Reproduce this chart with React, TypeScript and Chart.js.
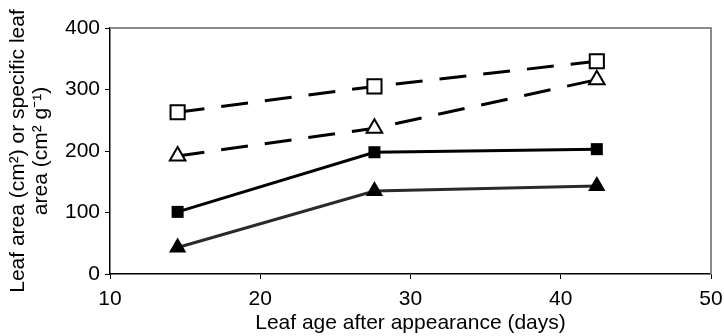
import React, { useEffect, useRef } from "react";
import { Chart, registerables } from "chart.js";

Chart.register(...registerables);

const leafAge = [14.5, 27.6, 42.4];
const openSquareValues = [263, 305, 346];
const openTriangleValues = [192, 237, 316];
const filledSquareValues = [101, 198, 203];
const filledTriangleValues = [43, 135, 143];

const xTicks = [10, 20, 30, 40, 50];
const yTicks = [0, 100, 200, 300, 400];

const xTitle = "Leaf age after appearance (days)";
const yTitle = ["Leaf area (cm\u00B2) or specific leaf", "area (cm\u00B2 g\u207B\u00B9)"];

const FONT = "'Liberation Sans', Arial, Helvetica, sans-serif";

const toPoints = (ys: number[]) => leafAge.map((x, i) => ({ x, y: ys[i] }));

const frame = {
  id: "frame",
  afterDraw(chart: any) {
    const { ctx, chartArea } = chart;
    ctx.save();
    ctx.strokeStyle = "#8a8a8a";
    ctx.lineWidth = 2;
    ctx.beginPath();
    ctx.moveTo(chartArea.left, chartArea.top);
    ctx.lineTo(chartArea.right, chartArea.top);
    ctx.lineTo(chartArea.right, chartArea.bottom);
    ctx.stroke();
    ctx.restore();
  },
};

export default function App() {
  const ref = useRef<HTMLCanvasElement | null>(null);
  useEffect(() => {
    document.body.style.margin = "0";
    const canvas = ref.current;
    if (!canvas) return;
    const chart = new Chart(canvas, {
      type: "scatter",
      data: {
        datasets: [
          {
            label: "open squares",
            data: toPoints(openSquareValues),
            showLine: true,
            borderColor: "#000",
            borderWidth: 3,
            borderDash: [27, 17],
            pointStyle: "rect",
            pointRadius: 10,
            pointBorderWidth: 2,
            pointBorderColor: "#000",
            pointBackgroundColor: "#fff",
          },
          {
            label: "open triangles",
            data: toPoints(openTriangleValues),
            showLine: true,
            borderColor: "#000",
            borderWidth: 3,
            borderDash: [27, 17],
            pointStyle: "triangle",
            pointRadius: 9,
            pointBorderWidth: 2,
            pointBorderColor: "#000",
            pointBackgroundColor: "#fff",
          },
          {
            label: "filled squares",
            data: toPoints(filledSquareValues),
            showLine: true,
            borderColor: "#000",
            borderWidth: 3,
            pointStyle: "rect",
            pointRadius: 8.5,
            pointBorderWidth: 0,
            pointBackgroundColor: "#000",
          },
          {
            label: "filled triangles",
            data: toPoints(filledTriangleValues),
            showLine: true,
            borderColor: "#2a2a2a",
            borderWidth: 3,
            pointStyle: "triangle",
            pointRadius: 10,
            pointBorderWidth: 0,
            pointBackgroundColor: "#000",
          },
        ],
      },
      options: {
        responsive: false,
        animation: false,
        layout: { padding: { top: 28, right: 13, left: 0, bottom: 0 } },
        plugins: {
          legend: { display: false },
          tooltip: { enabled: false },
        },
        scales: {
          x: {
            type: "linear",
            min: 10,
            max: 50,
            afterBuildTicks: (s: any) => {
              s.ticks = xTicks.map((v) => ({ value: v }));
            },
            afterFit: (s: any) => {
              s.height = 62;
              s.paddingLeft = 0;
              s.paddingRight = 0;
            },
            ticks: {
              color: "#000",
              padding: 8,
              font: { family: FONT, size: 21 },
            },
            grid: {
              drawOnChartArea: false,
              drawTicks: true,
              tickLength: 5,
              color: "#000",
            },
            border: { color: "#000", width: 1.5 },
            title: {
              display: true,
              text: xTitle,
              color: "#000",
              font: { family: FONT, size: 21 },
              padding: { top: 0, bottom: 0 },
            },
          },
          y: {
            type: "linear",
            min: 0,
            max: 400,
            afterBuildTicks: (s: any) => {
              s.ticks = yTicks.map((v) => ({ value: v }));
            },
            afterFit: (s: any) => {
              s.width = 110;
              s.paddingTop = 0;
              s.paddingBottom = 0;
            },
            ticks: {
              color: "#000",
              padding: 5,
              font: { family: FONT, size: 21 },
            },
            grid: {
              drawOnChartArea: false,
              drawTicks: true,
              tickLength: 5,
              color: "#000",
            },
            border: { color: "#000", width: 1.5 },
            title: {
              display: true,
              text: yTitle,
              color: "#000",
              font: { family: FONT, size: 21, lineHeight: 1.1 },
              padding: { top: 7, bottom: 0 },
            },
          },
        },
      },
      plugins: [frame],
    });
    return () => chart.destroy();
  }, []);
  return (
    <div style={{ width: 724, height: 336 }}>
      <canvas ref={ref} width={724} height={336} style={{ display: "block" }} />
    </div>
  );
}
